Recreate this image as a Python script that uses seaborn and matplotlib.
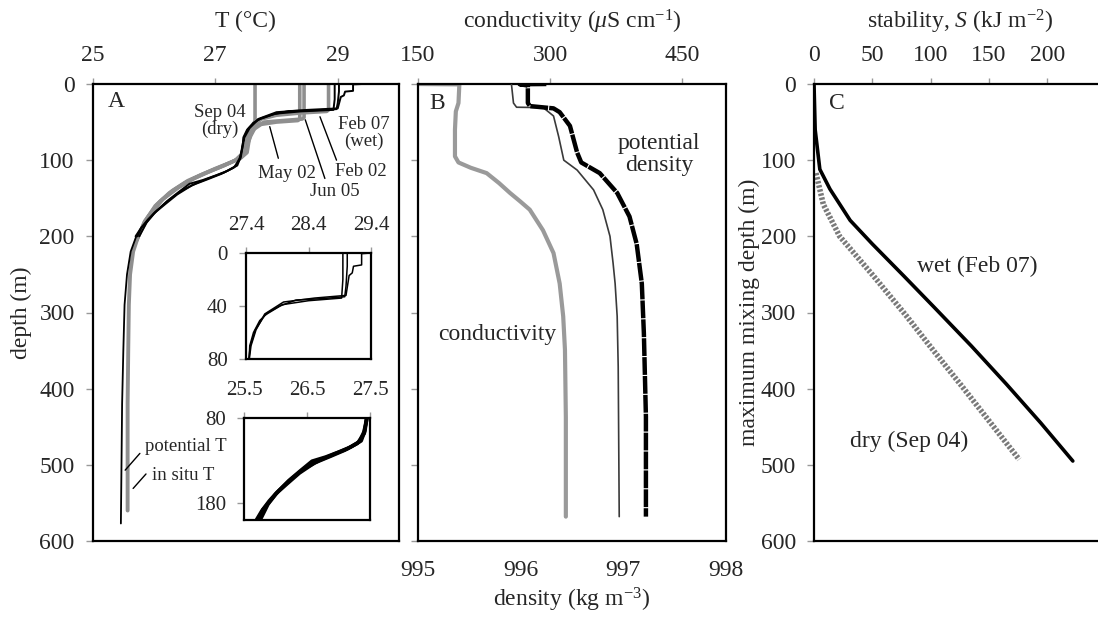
import matplotlib
matplotlib.use("Agg")
import matplotlib.pyplot as plt
import seaborn as sns

# ---------------- data ----------------
# Panel A: in situ temperature profiles (°C) vs depth (m)
sep04_T = [27.65, 27.65, 27.62, 27.58, 27.55, 27.52, 27.42, 27.25, 27.05, 26.80, 26.55, 26.30, 26.05, 25.85, 25.72]
sep04_d = [0, 48, 55, 62, 75, 90, 97, 103, 110, 118, 127, 140, 158, 180, 205]
may02_T = [28.38, 28.38, 28.35, 28.00, 27.75, 27.62, 27.55, 27.48, 27.40, 27.22, 27.00, 26.75, 26.50, 26.25, 26.02, 25.84, 25.72]
may02_d = [0, 46, 48, 50, 53, 60, 72, 88, 98, 104, 111, 120, 130, 143, 160, 182, 205]
jun05_T = [28.45, 28.45, 28.42, 28.10, 27.80, 27.66, 27.58, 27.50, 27.43, 27.28, 27.08, 26.85, 26.60, 26.35, 26.10, 25.90, 25.74]
jun05_d = [0, 44, 46, 48, 50, 56, 68, 85, 96, 102, 109, 117, 126, 138, 154, 175, 200]
feb02_T = [28.85, 28.85, 28.82, 28.40, 28.00, 27.75, 27.62, 27.53, 27.46, 27.33, 27.15, 26.90, 26.65, 26.40, 26.15, 25.93, 25.75]
feb02_d = [0, 34, 36, 38, 41, 46, 55, 70, 90, 100, 107, 115, 124, 136, 151, 172, 198]
# Feb 07 (wet) casts
feb07a_T = [29.02, 29.02, 29.00, 28.98, 28.60, 28.20, 27.94, 27.75, 27.62, 27.52, 27.46, 27.45, 27.42, 27.36, 27.20, 27.01, 26.80, 26.58, 26.40, 26.21, 26.05, 25.94, 25.80, 25.73]
feb07a_d = [0, 10, 25, 33, 34.5, 35.5, 40, 45, 51, 60, 70, 80, 95, 107, 114, 120, 126, 131, 142, 154, 166, 176, 188, 200]
feb07b_T = [29.40, 29.25, 29.25, 29.12, 29.10, 29.05, 29.00, 28.50, 28.00, 27.70, 27.56, 27.48, 27.44, 27.40, 27.33, 27.15, 26.95, 26.70, 26.45, 26.25, 26.02, 25.90, 25.78, 25.70]
feb07b_d = [0, 0.5, 9, 10, 15, 17, 32, 34, 37, 46, 58, 70, 85, 97, 108, 116, 122, 130, 140, 152, 168, 178, 190, 200]
feb07c_T = [28.95, 28.95, 28.93, 28.40, 27.98, 27.70, 27.55, 27.47, 27.44, 27.41, 27.30, 27.10, 26.88, 26.62, 26.38, 26.18, 26.00, 25.88, 25.76]
feb07c_d = [0, 20, 34, 36, 39, 47, 58, 70, 82, 98, 110, 118, 125, 133, 145, 158, 170, 182, 200]
# deep part
insitu_T = [25.75, 25.66, 25.61, 25.59, 25.58, 25.57, 25.57, 25.57]
insitu_d = [198, 220, 250, 290, 350, 420, 500, 560]
potT_T = [25.72, 25.62, 25.56, 25.52, 25.50, 25.48, 25.47, 25.46]
potT_d = [198, 220, 250, 290, 350, 420, 500, 577]

# Panel B
cond_v = [150, 197, 196, 193, 192, 192, 196, 210, 228, 242, 254.5, 266, 277, 292, 304, 311, 315, 317, 318, 318]
cond_d = [0, 0.5, 25, 36, 60, 95, 103, 110, 117, 130, 143, 154, 165, 192, 222, 262, 305, 349, 437, 568]
dens_v = [995.91, 995.93, 995.96, 996.22, 996.32, 996.37, 996.42, 996.55, 996.71, 996.80, 996.87, 996.90, 996.92, 996.94, 996.95, 996.96]
dens_d = [0, 25, 30.5, 31, 42, 69, 100, 113, 139, 165, 200, 235, 262, 305, 371, 568]
pdens_v = [996.25, 995.99, 996.07, 996.07, 996.09, 996.32, 996.38, 996.48, 996.55, 996.59, 996.77, 996.94, 997.06, 997.13, 997.18, 997.20, 997.22, 997.22]
pdens_d = [0, 0.3, 2, 25, 29, 32, 37, 55, 90, 103, 117, 143, 174, 210, 262, 327, 437, 568]

# Panel C
wet_S = [0, 0.5, 1, 5, 13.7, 31, 50, 77, 103, 135, 165, 194.5, 222]
wet_d = [0, 30, 60, 112, 138, 179, 210, 252, 293, 344, 394, 445, 495]
dry_S = [1.7, 8, 22, 51, 79, 103, 127, 151, 176]
dry_d = [117, 158, 200, 252, 304, 351, 397, 444, 493]

T_ticks = [25, 27, 29]
depth_ticks = [0, 100, 200, 300, 400, 500, 600]
cond_ticks = [150, 300, 450]
dens_ticks = [995, 996, 997, 998]
S_ticks = [0, 50, 100, 150, 200]

# ---------------- style ----------------
sns.set_theme(style="white")
plt.rcParams["font.family"] = ["Liberation Serif", "DejaVu Serif"]
plt.rcParams["mathtext.fontset"] = "custom"
plt.rcParams["mathtext.rm"] = "Liberation Serif"
plt.rcParams["mathtext.it"] = "Liberation Serif:italic"
FS = 17
FSA = 13.5
FSI = 15
plt.rcParams["font.size"] = FS

W, H = 1098, 619
fig = plt.figure(figsize=(W / 100, H / 100), dpi=100)

TICKC = "#999999"


def rect(l, t, r, b):
    return [l / W, 1 - b / H, (r - l) / W, (b - t) / H]


def frame(ax, right=True, fs=FS):
    for s in ["left", "top", "bottom", "right"]:
        ax.spines[s].set_visible(True)
        ax.spines[s].set_color("black")
        ax.spines[s].set_linewidth(1.6)
    if not right:
        ax.spines["right"].set_visible(False)
    ax.xaxis.tick_top()
    ax.tick_params(axis="x", which="both", top=True, bottom=False, labeltop=True,
                   labelbottom=False, direction="out", length=4, width=1,
                   color=TICKC, pad=9, labelsize=fs)
    ax.tick_params(axis="y", which="both", left=True, right=False, labelleft=True,
                   direction="out", length=5, width=1, color=TICKC, pad=8, labelsize=fs)
    ax.set_facecolor("white")


def line(ax, x, y, **kw):
    sns.lineplot(x=x, y=y, sort=False, estimator=None, ax=ax, **kw)


GRAY = "#8f8f8f"

# ---------------- Panel A ----------------
axA = fig.add_axes(rect(92.7, 84, 399, 541))
for T, d in [(sep04_T, sep04_d), (may02_T, may02_d), (jun05_T, jun05_d), (feb02_T, feb02_d)]:
    line(axA, T, d, color=GRAY, lw=2.6)
line(axA, insitu_T, insitu_d, color=GRAY, lw=2.8)
line(axA, potT_T, potT_d, color="black", lw=1.3)
for T, d in [(feb07a_T, feb07a_d), (feb07b_T, feb07b_d), (feb07c_T, feb07c_d)]:
    line(axA, T, d, color="black", lw=1.4)
axA.set_xlim(25, 30)
axA.set_ylim(600, 0)
axA.set_xticks(T_ticks)
axA.set_yticks(depth_ticks)
frame(axA)
axA.set_xlabel("T (°C)", fontsize=FS)
axA.xaxis.set_label_position("top")
axA.xaxis.label.set_va("center")
axA.xaxis.set_label_coords(0.5, 1.136)
axA.set_ylabel("depth (m)", fontsize=FS)
axA.yaxis.label.set_va("center")
axA.yaxis.set_label_coords(-0.232, 0.5)

axA.text(25.39, 23, "A", ha="center", va="center", fontsize=FS)
axA.text(27.08, 49, "Sep 04\n(dry)", ha="center", va="center", fontsize=FSA, linespacing=1.0)
axA.text(29.43, 64, "Feb 07\n(wet)", ha="center", va="center", fontsize=FSA, linespacing=1.0)
axA.text(28.17, 117, "May 02", ha="center", va="center", fontsize=FSA)
axA.text(29.38, 115, "Feb 02", ha="center", va="center", fontsize=FSA)
axA.text(28.95, 141, "Jun 05", ha="center", va="center", fontsize=FSA)
axA.text(25.85, 476, "potential T", ha="left", va="center", fontsize=FSA)
axA.text(25.96, 514, "in situ T", ha="left", va="center", fontsize=FSA)
lead = dict(arrowstyle="-", color="black", lw=1.0, shrinkA=0, shrinkB=0)
for (x1, y1), (x2, y2) in [((28.03, 97.5), (27.89, 56)), ((28.79, 124), (28.47, 47)),
                           ((28.98, 100), (28.71, 43)), ((25.77, 485), (25.53, 507)),
                           ((25.87, 512), (25.66, 531))]:
    axA.annotate("", xy=(x2, y2), xytext=(x1, y1), arrowprops=lead)

# inset 1
axI1 = fig.add_axes(rect(246, 253, 371, 359))
for T, d in [(feb07a_T, feb07a_d), (feb07b_T, feb07b_d), (feb07c_T, feb07c_d)]:
    line(axI1, T, d, color="black", lw=1.1)
axI1.set_xlim(27.4, 29.4)
axI1.set_ylim(80, 0)
axI1.set_xticks([27.4, 28.4, 29.4])
axI1.set_yticks([0, 40, 80])
frame(axI1, fs=FSI)
axI1.set_xlabel("")
axI1.set_ylabel("")

# inset 2
axI2 = fig.add_axes(rect(244, 418, 370, 519.6))
for T, d in [(feb07a_T, feb07a_d), (feb07b_T, feb07b_d), (feb07c_T, feb07c_d)]:
    line(axI2, T, d, color="black", lw=2.6)
axI2.set_xlim(25.5, 27.5)
axI2.set_ylim(200, 80)
axI2.set_xticks([25.5, 26.5, 27.5])
axI2.set_yticks([80, 180])
frame(axI2, fs=FSI)
axI2.set_xlabel("")
axI2.set_ylabel("")

# ---------------- Panel B ----------------
axB = fig.add_axes(rect(418, 84, 726, 541))
line(axB, cond_v, cond_d, color="#9a9a9a", lw=3.0)
axB2 = axB.twiny()
line(axB2, dens_v, dens_d, color="#3a3a3a", lw=1.2)
line(axB2, pdens_v, pdens_d, color="black", lw=3.2, linestyle=(0, (4, 0.25)))

axB.set_xlim(150, 500)
axB.set_ylim(600, 0)
axB.set_xticks(cond_ticks)
axB.set_yticks(depth_ticks)
frame(axB)
axB.tick_params(axis="y", labelleft=False)
axB.set_ylabel("")
axB.set_xlabel(r"conductivity ($\mu$S cm$^{-1}$)", fontsize=FS)
axB.xaxis.set_label_position("top")
axB.xaxis.label.set_va("center")
axB.xaxis.set_label_coords(0.5, 1.136)

axB2.set_xlim(995, 998)
axB2.set_ylim(600, 0)
axB2.set_xticks(dens_ticks)
axB2.xaxis.tick_bottom()
axB2.xaxis.set_label_position("bottom")
axB2.tick_params(axis="x", bottom=True, top=False, labelbottom=True, labeltop=False,
                 length=0, pad=13.5, labelsize=FS)
for s in axB2.spines.values():
    s.set_visible(False)
axB2.set_ylabel("")
axB2.set_xlabel(r"density (kg m$^{-3}$)", fontsize=FS)
axB2.xaxis.label.set_va("center")
axB2.xaxis.set_label_coords(0.5, -0.129)
axB2.text(995.19, 25, "B", ha="center", va="center", fontsize=FS)
axB2.text(997.35, 93, "potential\ndensity", ha="center", va="center", fontsize=FS, linespacing=1.05)
axB2.text(995.77, 329, "conductivity", ha="center", va="center", fontsize=FS)

# ---------------- Panel C ----------------
axC = fig.add_axes(rect(814, 84, 1098, 541))
line(axC, wet_S, wet_d, color="black", lw=2.6)
line(axC, dry_S, dry_d, color="#7a7a7a", lw=4.0, linestyle=(0, (0.45, 0.3)))
axC.set_xlim(0, 243.6)
axC.set_ylim(600, 0)
axC.set_xticks(S_ticks)
axC.set_yticks(depth_ticks)
frame(axC, right=False)
axC.set_xlabel(r"stability, $S$ (kJ m$^{-2}$)", fontsize=FS)
axC.xaxis.set_label_position("top")
axC.xaxis.label.set_va("center")
axC.xaxis.set_label_coords(0.514, 1.136)
axC.set_ylabel("maximum mixing depth (m)", fontsize=FS)
axC.yaxis.label.set_va("center")
axC.yaxis.set_label_coords(-0.228, 0.5)
axC.text(19.7, 26, "C", ha="center", va="center", fontsize=FS)
axC.text(139.8, 239, "wet (Feb 07)", ha="center", va="center", fontsize=FS)
axC.text(81.5, 469, "dry (Sep 04)", ha="center", va="center", fontsize=FS)

fig.savefig("out.png", dpi=100, facecolor="white")
